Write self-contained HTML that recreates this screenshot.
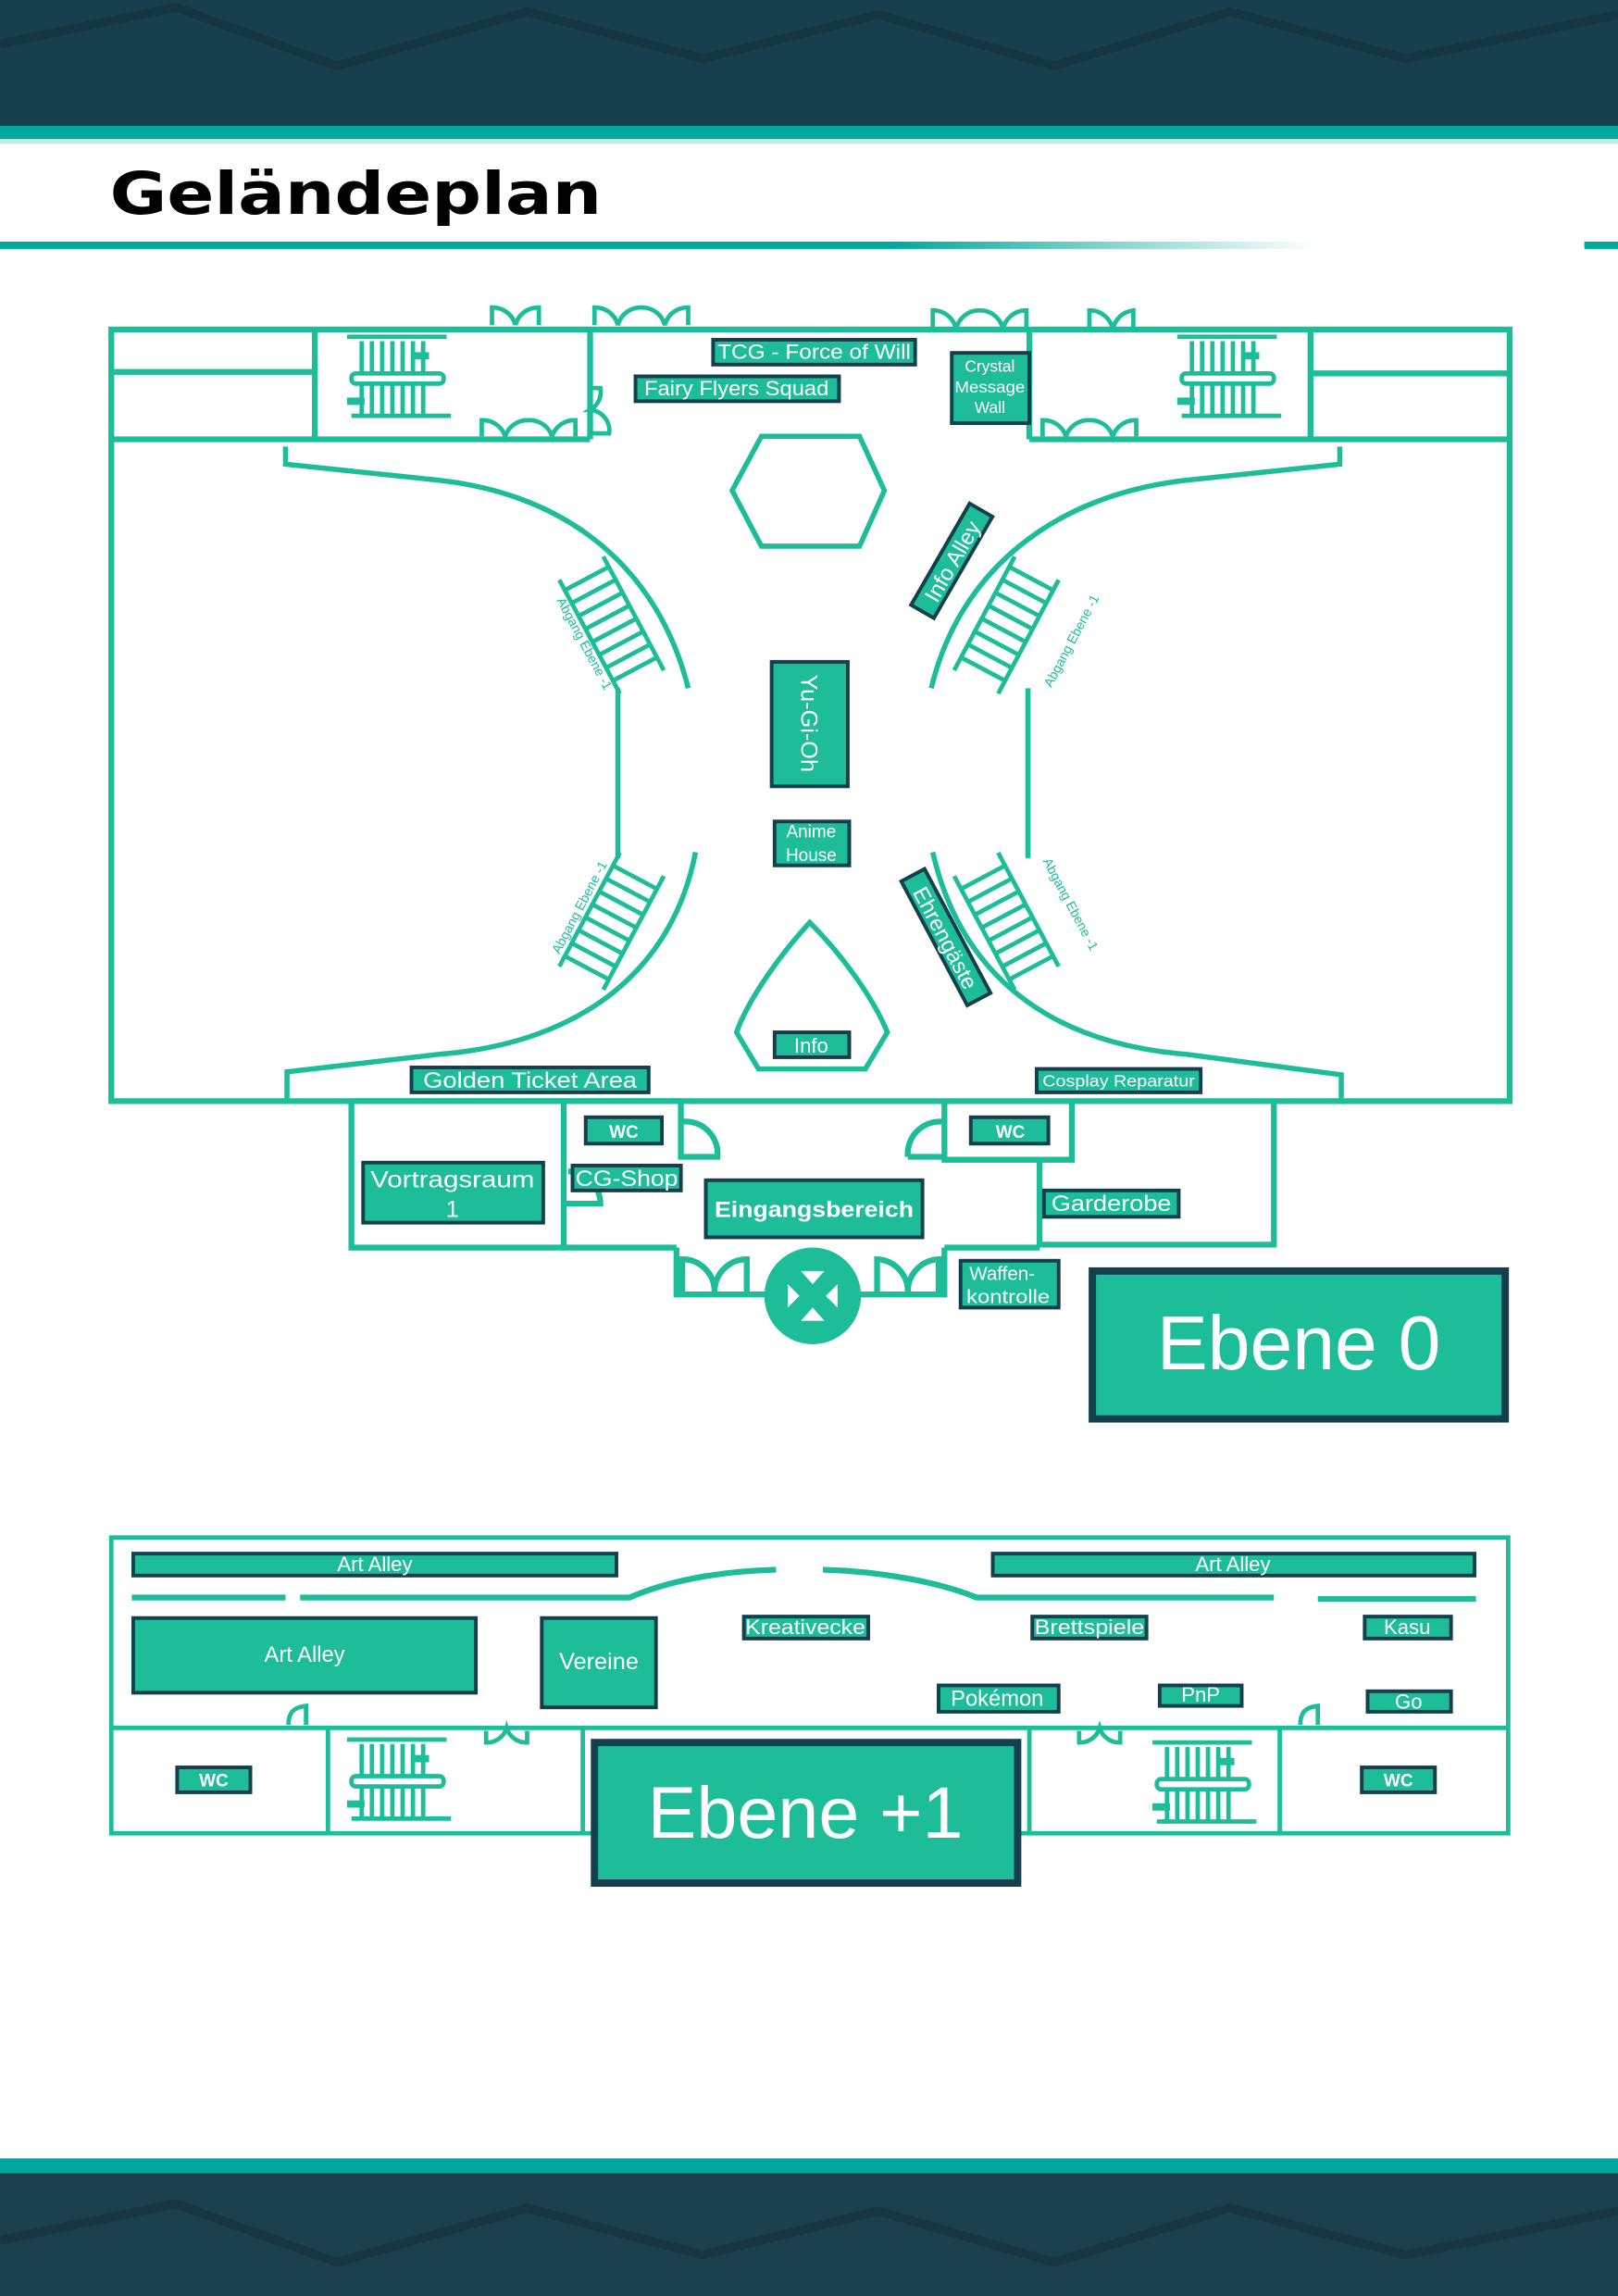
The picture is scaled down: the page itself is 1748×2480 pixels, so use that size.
<!DOCTYPE html>
<html><head><meta charset="utf-8"><style>
html,body{margin:0;padding:0;background:#fff}
svg{display:block}
text{font-family:"Liberation Sans",sans-serif;fill:#fff}
</style></head><body>
<svg width="1748" height="2480" viewBox="0 0 1105 1568" preserveAspectRatio="none" xmlns="http://www.w3.org/2000/svg">
<defs>
<linearGradient id="fade" x1="0" x2="1"><stop offset="0" stop-color="#00a99d"/><stop offset="1" stop-color="#00a99d" stop-opacity="0"/></linearGradient>
<g id="esc" fill="none" stroke="#1dbd9a" stroke-width="3">
<path d="M0,0 h68 M3,54 h68"/>
<path d="M10,3 v22 M17,3 v22 M24,3 v22 M31,3 v22 M38,3 v22 M45,3 v22 M52,3 v22 M10,31 v22 M17,31 v22 M24,31 v22 M31,31 v22 M38,31 v22 M45,31 v22 M52,31 v22"/>
<rect x="3" y="25" width="63" height="7" rx="3"/>
<path d="M44,13 h12 M0,44 h12" stroke-width="5"/>
</g>
<g id="stair" fill="none" stroke="#1dbd9a" stroke-width="3">
<path d="M0,0 v88 M34,0 v88 M0,8 h34 M0,18 h34 M0,28 h34 M0,38 h34 M0,48 h34 M0,58 h34 M0,68 h34 M0,78 h34"/>
</g>
</defs>
<!-- header -->
<rect x="0" y="0" width="1105" height="86" fill="#173f4d"/>
<path d="M0,30 L120,5 L230,45 L360,8 L480,40 L600,10 L720,45 L840,8 L960,40 L1105,10" stroke="#12323d" stroke-width="6" fill="none" opacity=".6"/>
<rect x="0" y="86" width="1105" height="9" fill="#00a99d"/>
<rect x="0" y="95" width="1105" height="3" fill="#bfece6"/>
<text x="75" y="146" style="font-family:'DejaVu Sans',sans-serif;font-weight:bold;fill:#000" font-size="40" textLength="336" lengthAdjust="spacingAndGlyphs">Geländeplan</text>
<rect x="0" y="165" width="610" height="5" fill="#00a99d"/>
<rect x="610" y="165" width="290" height="5" fill="url(#fade)"/>
<rect x="1082" y="165" width="23" height="5" fill="#00a99d"/>
<!-- footer -->
<rect x="0" y="1474" width="1105" height="10" fill="#00a99d"/>
<rect x="0" y="1484" width="1105" height="84" fill="#1c3f4d"/>
<path d="M0,1530 L120,1505 L230,1545 L360,1508 L480,1540 L600,1510 L720,1545 L840,1508 L960,1540 L1105,1510" stroke="#12323d" stroke-width="6" fill="none" opacity=".6"/>

<g fill="none" stroke="#1dbd9a" stroke-width="4">
<path d="M76,225 H1031 V752 H76 Z"/>
<path d="M76,300 H403 M215,225 V300 M403,225 V300 M76,254 H215"/>
<path d="M703,300 H1031 M703,225 V300 M895,225 V300 M895,255 H1031"/>
<path d="M195,305 V317 L300,328 C390,338 450,390 470,470" stroke-width="3.5"/>
<path d="M422,470 V586" stroke-width="3.5"/>
<path d="M475,582 C460,660 400,712 300,720 L196,732 V752" stroke-width="3.5"/>
<path d="M915,305 V317 L810,328 C720,338 655,390 636,470" stroke-width="3.5"/>
<path d="M702,470 V586" stroke-width="3.5"/>
<path d="M637,582 C655,660 710,712 810,720 L916,734 V752" stroke-width="3.5"/>
<path d="M520,298 H587 L604,335 L587,373 H520 L500,335 Z" stroke-width="3.5"/>
<path d="M553,630 C530,655 510,685 503,705 L518,730 H591 L606,705 C598,685 578,655 553,630 Z" stroke-width="3.5"/>
<path d="M336,222 V210 A16,16 0 0 1 352,222 M352,222 A16,16 0 0 1 368,210 V222" stroke-width="3"/>
<path d="M406,222 V210 A16,16 0 0 1 422,222 A16,16 0 0 1 438,210 A16,16 0 0 1 454,222 A16,16 0 0 1 470,210 V222" stroke-width="3"/>
<path d="M637,225 V212 A16,16 0 0 1 653,225 A16,16 0 0 1 669,212 A16,16 0 0 1 685,225 A16,16 0 0 1 701,212 V225" stroke-width="3"/>
<path d="M744,225 V212 A16,16 0 0 1 760,225 A16,16 0 0 1 774,212 V225" stroke-width="3"/>
<path d="M329,298 V287 A16,16 0 0 1 345,298 A16,16 0 0 1 361,287 A16,16 0 0 1 377,298 A16,16 0 0 1 393,287 V298" stroke-width="3"/>
<path d="M712,298 V287 A16,16 0 0 1 728,298 A16,16 0 0 1 744,287 A16,16 0 0 1 760,298 A16,16 0 0 1 776,287 V298" stroke-width="3"/>
<path d="M403,265 H410 A14,14 0 0 1 403,280 A14,14 0 0 1 416,296 H403" stroke-width="3"/>
<path d="M240,752 V852 H462 M385,752 V852 M385,822 H410 A22,22 0 0 0 388,800 M240,752 H465 V790 H490 A22,22 0 0 0 466,766"/>
<path d="M645,752 V792 H732 V752 M710,792 V850 H870 V752 M620,790 H643 M620,790 A22,22 0 0 1 643,766"/>
<path d="M645,852 H710"/>
<path d="M462,852 V884 H526 M585,884 H645 V852 M466,882 V860 A22,22 0 0 1 488,882 A22,22 0 0 1 510,860 V882 M599,882 V860 A22,22 0 0 1 620,882 A22,22 0 0 1 641,860 V882" stroke-width="4"/>
<rect x="76" y="1050" width="954" height="202" stroke-width="3"/>
<path d="M76,1180 H1030 M224,1180 V1252 M398,1180 V1252 M703,1180 V1252 M874,1180 V1252" stroke-width="3"/>
<path d="M90,1091 H195 M205,1091 H430 C455,1080 490,1073 530,1072 M562,1072 C600,1073 640,1080 667,1091 H870 M900,1092 H1008" stroke-width="4"/>
<path d="M197,1178 C197,1170 200,1166 209,1165 V1178 M888,1178 C888,1170 891,1166 900,1165 V1178" stroke-width="3"/>
<path d="M332,1182 V1190 A14,14 0 0 0 346,1180 A14,14 0 0 0 360,1190 V1182 M737,1182 V1190 A14,14 0 0 0 751,1180 A14,14 0 0 0 765,1190 V1182" stroke-width="3"/>
</g>
<circle cx="555" cy="885" r="33" fill="#1dbd9a"/>
<path d="M547,868 L563,868 L555,877 Z M547,902 L563,902 L555,893 Z M538,877 L538,893 L546,885 Z M572,877 L572,893 L564,885 Z" fill="#fff"/>
<use href="#esc" x="237" y="230"/>
<use href="#esc" x="804" y="230"/>
<use href="#esc" x="237" y="1188"/>
<use href="#esc" x="787" y="1190"/>
<!-- stairs -->
<use href="#stair" transform="translate(382,396) rotate(-28)"/>
<use href="#stair" transform="translate(723,396) scale(-1,1) rotate(-28)"/>
<use href="#stair" transform="translate(382,660) scale(1,-1) rotate(-28)"/>
<use href="#stair" transform="translate(723,660) scale(-1,-1) rotate(-28)"/>
<g font-size="9">
<text x="0" y="0" transform="translate(380,410) rotate(62)" style="fill:#1dbd9a">Abgang  Ebene -1</text>
<text x="0" y="0" transform="translate(382,652) rotate(-62)" style="fill:#1dbd9a">Abgang  Ebene -1</text>
<text x="0" y="0" transform="translate(718,470) rotate(-62)" style="fill:#1dbd9a">Abgang  Ebene -1</text>
<text x="0" y="0" transform="translate(712,588) rotate(62)" style="fill:#1dbd9a">Abgang  Ebene -1</text>
</g>
<g fill="#1dbd9a" stroke="#143f4c" stroke-width="2.5">
<rect x="487" y="232" width="138" height="17"/>
<rect x="434" y="257" width="139" height="17"/>
<rect x="650" y="241" width="53" height="48"/>
<rect x="527" y="452" width="52" height="85"/>
<rect x="529" y="561" width="51" height="30"/>
<rect x="529" y="705" width="51" height="17"/>
<rect x="281" y="729" width="162" height="17"/>
<rect x="708" y="730" width="112" height="16"/>
<rect x="400" y="763" width="52" height="18"/>
<rect x="663" y="763" width="53" height="18"/>
<rect x="248" y="794" width="123" height="41"/>
<rect x="391" y="796" width="74" height="17"/>
<rect x="482" y="806" width="148" height="39"/>
<rect x="713" y="813" width="92" height="18"/>
<rect x="656" y="861" width="67" height="32"/>
<rect x="746" y="868" width="282" height="101" stroke-width="5"/>
<rect x="91" y="1061" width="330" height="15"/>
<rect x="678" y="1061" width="329" height="15"/>
<rect x="91" y="1105" width="234" height="51"/>
<rect x="370" y="1105" width="78" height="61"/>
<rect x="508" y="1104" width="85" height="15"/>
<rect x="705" y="1104" width="78" height="15"/>
<rect x="932" y="1104" width="59" height="15"/>
<rect x="641" y="1151" width="82" height="18"/>
<rect x="792" y="1151" width="56" height="14"/>
<rect x="934" y="1155" width="57" height="14"/>
<rect x="121" y="1207" width="50" height="17"/>
<rect x="930" y="1207" width="50" height="17"/>
<rect x="406" y="1190" width="289" height="96" stroke-width="5"/>
<rect x="-40" y="-9" width="80" height="18" transform="translate(650,383) rotate(-60)"/>
<rect x="-48" y="-9" width="96" height="18" transform="translate(646,640) rotate(62)"/>
</g>
<g font-size="14">
<text x="490" y="245" textLength="132" lengthAdjust="spacingAndGlyphs">TCG - Force of Will</text>
<text x="440" y="270" textLength="126" lengthAdjust="spacingAndGlyphs">Fairy Flyers Squad</text>
<text x="676" y="254" font-size="11" text-anchor="middle">Crystal</text>
<text x="676" y="268" font-size="11" text-anchor="middle" textLength="48" lengthAdjust="spacingAndGlyphs">Message</text>
<text x="676" y="282" font-size="11" text-anchor="middle">Wall</text>
<text x="0" y="0" font-size="16" text-anchor="middle" transform="translate(547,494) rotate(90)">Yu-Gi-Oh</text>
<text x="554" y="572" font-size="12" text-anchor="middle">Anime</text>
<text x="554" y="588" font-size="12" text-anchor="middle">House</text>
<text x="554" y="719" font-size="14" text-anchor="middle">Info</text>
<text x="0" y="0" font-size="15" text-anchor="middle" transform="translate(655,386) rotate(-60)">Info Alley</text>
<text x="0" y="0" font-size="15" text-anchor="middle" transform="translate(641,643) rotate(62)">Ehrengäste</text>
<text x="362" y="743" font-size="15" text-anchor="middle" textLength="146" lengthAdjust="spacingAndGlyphs">Golden Ticket Area</text>
<text x="764" y="742" font-size="11" text-anchor="middle" textLength="104" lengthAdjust="spacingAndGlyphs">Cosplay Reparatur</text>
<text x="426" y="777" font-size="12" font-weight="bold" text-anchor="middle">WC</text>
<text x="690" y="777" font-size="12" font-weight="bold" text-anchor="middle">WC</text>
<text x="309" y="811" font-size="16" text-anchor="middle" textLength="112" lengthAdjust="spacingAndGlyphs">Vortragsraum</text>
<text x="309" y="831" font-size="16" text-anchor="middle">1</text>
<text x="428" y="810" font-size="15" text-anchor="middle" textLength="70" lengthAdjust="spacingAndGlyphs">CG-Shop</text>
<text x="556" y="831" font-size="15" font-weight="bold" text-anchor="middle" textLength="136" lengthAdjust="spacingAndGlyphs">Eingangsbereich</text>
<text x="759" y="827" font-size="15" text-anchor="middle" textLength="82" lengthAdjust="spacingAndGlyphs">Garderobe</text>
<text x="662" y="874" font-size="13">Waffen-</text>
<text x="660" y="890" font-size="13" textLength="57" lengthAdjust="spacingAndGlyphs">kontrolle</text>
<text x="887" y="935" font-size="52" text-anchor="middle">Ebene 0</text>
<text x="256" y="1073" font-size="14" text-anchor="middle">Art Alley</text>
<text x="842" y="1073" font-size="14" text-anchor="middle">Art Alley</text>
<text x="208" y="1135" font-size="15" text-anchor="middle">Art Alley</text>
<text x="409" y="1140" font-size="16" text-anchor="middle">Vereine</text>
<text x="550" y="1116" font-size="14" text-anchor="middle" textLength="82" lengthAdjust="spacingAndGlyphs">Kreativecke</text>
<text x="744" y="1116" font-size="14" text-anchor="middle" textLength="75" lengthAdjust="spacingAndGlyphs">Brettspiele</text>
<text x="961" y="1116" font-size="14" text-anchor="middle">Kasu</text>
<text x="681" y="1165" font-size="15" text-anchor="middle">Pokémon</text>
<text x="820" y="1162" font-size="14" text-anchor="middle">PnP</text>
<text x="962" y="1167" font-size="14" text-anchor="middle">Go</text>
<text x="146" y="1220" font-size="12" font-weight="bold" text-anchor="middle">WC</text>
<text x="955" y="1220" font-size="12" font-weight="bold" text-anchor="middle">WC</text>
<text x="550" y="1255" font-size="50" text-anchor="middle">Ebene +1</text>
</g>
</svg>
</body></html>
